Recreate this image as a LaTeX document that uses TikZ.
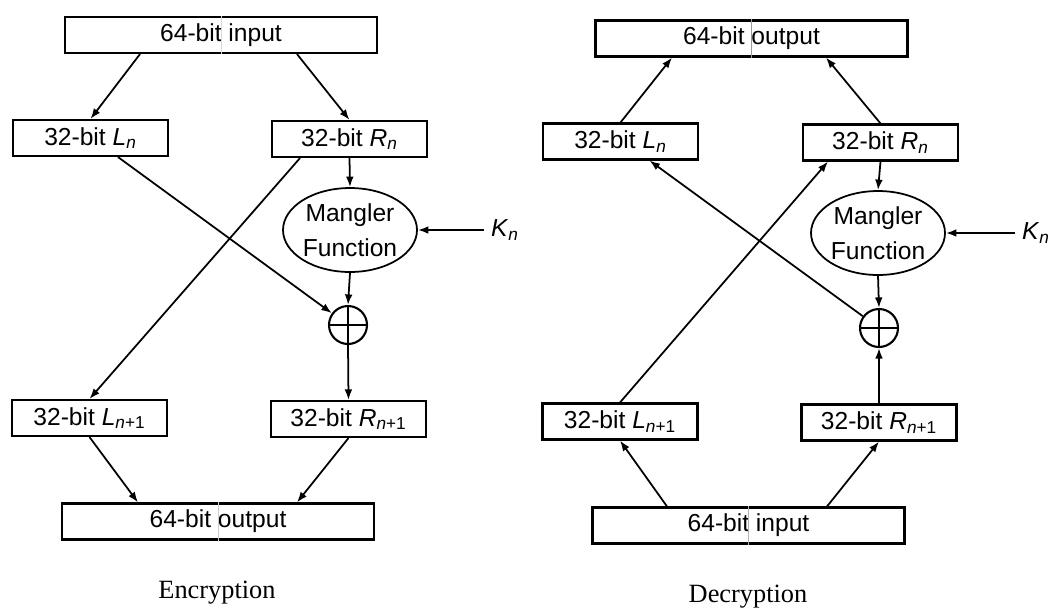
\documentclass[tikz,border=0pt]{standalone}
\usepackage{fontspec}
\setmainfont{Liberation Serif}
\setsansfont{Liberation Sans}
\usepackage{tikz}
\usetikzlibrary{shapes.geometric,arrows.meta}
\newcommand{\halfv}[2]{\textit{#1}\textsubscript{#2}}

\begin{document}
\begin{tikzpicture}[x=0.02cm, y=-0.02cm, line width=1pt,
        >={Latex[length=6pt,width=4.4pt]},
        wordbox/.style={shape=rectangle, draw, line width=1.2pt, minimum height=0.72cm, inner sep=0pt, font=\sffamily\fontsize{14}{17}\selectfont},
        fullbox/.style={wordbox, minimum width=6.24cm},
        halfbox/.style={wordbox, minimum width=3.1cm},
        mangler/.style={shape=ellipse, draw, minimum width=2.68cm, minimum height=1.68cm, inner sep=0pt, align=center, font=\sffamily\fontsize{14}{20}\selectfont},
        xorop/.style={shape=circle, draw, line width=1.2pt, minimum size=0.76cm, inner sep=0pt},
        keyin/.style={font=\sffamily\fontsize{14}{17}\selectfont},
        caption/.style={font=\fontsize{15}{18}\selectfont}]
        \useasboundingbox (0, 0) rectangle (1060, 609);
        \node[fullbox] (inE) at (221, 35) {64-bit input};
        \node[halfbox] (LnE) at (90.5, 138) {32-bit \halfv{L}{\textit{n}}};
        \node[halfbox] (RnE) at (349.5, 139) {32-bit \halfv{R}{\textit{n}}};
        \node[mangler] (mangE) at (350, 230) {Mangler\\Function};
        \node[keyin] (KE) at (505, 230) {\halfv{K}{\textit{n}}};
        \node[xorop] (xorE) at (348, 325) {};
        \node[halfbox] (Ln1E) at (89.5, 418) {32-bit \halfv{L}{\textit{n}+1}};
        \node[halfbox] (Rn1E) at (348.5, 419) {32-bit \halfv{R}{\textit{n}+1}};
        \node[fullbox] (outE) at (218, 521.5) {64-bit output};
        \node[caption] (capE) at (217, 593) {Encryption};
        \draw[gray!30, line width=0.4pt] (inE.north) to (inE.south);
        \draw[gray!40, line width=0.4pt] (outE.north) to (outE.south);
        \draw (xorE.north) to (xorE.south);
        \draw (xorE.west) to (xorE.east);
        \draw[->] ([xshift=-1.62cm]inE.south) to (LnE.north);
        \draw[->] ([xshift=1.52cm]inE.south) to (RnE.north);
        \draw[->] (RnE.south) to (mangE.north);
        \draw[->] (mangE.south) to (xorE.north);
        \draw[->] (KE.west) to (mangE.east);
        \draw[->] ([xshift=0.55cm]LnE.south) to (xorE);
        \draw[->] ([xshift=-0.99cm]RnE.south) to (Ln1E.north);
        \draw[->] (xorE.south) to (Rn1E.north);
        \draw[->] (Ln1E.south) to ([xshift=-1.6cm]outE.north);
        \draw[->] (Rn1E.south) to ([xshift=1.58cm]outE.north);
        \node[fullbox] (outD) at (751.5, 38.5) {64-bit output};
        \node[halfbox] (LnD) at (620.5, 141.5) {32-bit \halfv{L}{\textit{n}}};
        \node[halfbox] (RnD) at (880.5, 142.5) {32-bit \halfv{R}{\textit{n}}};
        \node[mangler] (mangD) at (878, 233) {Mangler\\Function};
        \node[keyin] (KD) at (1036, 233) {\halfv{K}{\textit{n}}};
        \node[xorop] (xorD) at (879, 328) {};
        \node[halfbox] (Ln1D) at (620, 421.5) {32-bit \halfv{L}{\textit{n}+1}};
        \node[halfbox] (Rn1D) at (879, 422.5) {32-bit \halfv{R}{\textit{n}+1}};
        \node[fullbox] (inD) at (748.5, 525.5) {64-bit input};
        \node[caption] (capD) at (748, 597) {Decryption};
        \draw[gray!80, line width=0.4pt] (outD.north) to (outD.south);
        \draw[gray!60, line width=0.4pt] (inD.north) to (inD.south);
        \draw (xorD.north) to (xorD.south);
        \draw (xorD.west) to (xorD.east);
        \draw[->] (LnD.north) to ([xshift=-1.59cm]outD.south);
        \draw[->] (RnD.north) to ([xshift=1.49cm]outD.south);
        \draw[->] (RnD.south) to (mangD.north);
        \draw[->] (mangD.south) to (xorD.north);
        \draw[->] (KD.west) to (mangD.east);
        \draw[->] (xorD) to ([xshift=0.58cm]LnD.south);
        \draw[->] (Ln1D.north) to ([xshift=-1.05cm]RnD.south);
        \draw[->] (Rn1D.north) to (xorD.south);
        \draw[->] ([xshift=-1.63cm]inD.north) to (Ln1D.south);
        \draw[->] ([xshift=1.57cm]inD.north) to (Rn1D.south);
    \end{tikzpicture}
\end{document}
